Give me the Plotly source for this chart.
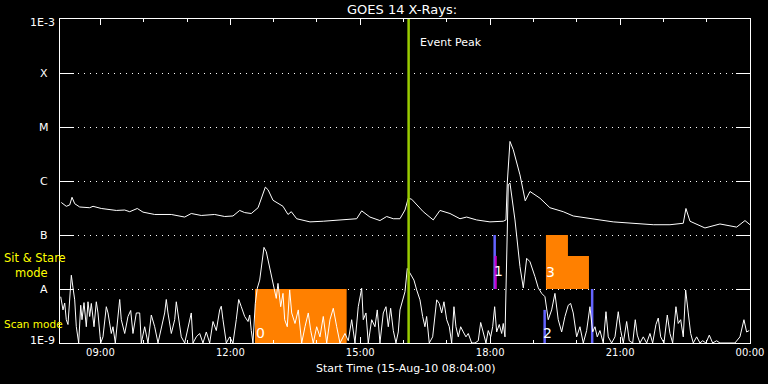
import numpy as np
import pandas as pd
import plotly.graph_objects as go

DAY = pd.Timestamp("2010-08-15")

# ---------------- data (hours after 00:00 on 15-Aug-2010, flux in W/m^2) -------------
long_hours = [8.097, 8.212, 8.291, 8.344, 8.406, 8.522, 8.752, 8.829, 9.020, 9.367,
              9.561, 9.676, 9.852, 9.983, 10.253, 10.636, 10.946, 11.098, 11.329, 11.639,
              11.870, 12.061, 12.216, 12.331, 12.484, 12.64, 12.808, 12.87, 12.985, 13.10,
              13.216, 13.331, 13.408, 13.532, 13.839, 14.146, 14.532, 14.917, 15.033, 15.224,
              15.455, 15.61, 15.763, 15.917, 16.033, 16.109, 16.187, 16.455, 16.686, 16.841,
              17.072, 17.303, 17.457, 17.688, 17.995, 18.302, 18.365, 18.395, 18.457, 18.533,
              18.688, 18.74, 18.81, 18.919, 19.15, 19.38, 19.688, 19.918, 20.228, 20.535,
              20.842, 21.228, 21.766, 22.152, 22.459, 22.521, 22.614, 22.96, 23.306, 23.692,
              23.884, 24.0]
long_flux = [4.0e-7, 3.4e-7, 3.6e-7, 5.0e-7, 3.8e-7, 3.3e-7, 3.2e-7, 3.4e-7, 3.1e-7, 2.85e-7,
             2.9e-7, 2.7e-7, 3.1e-7, 2.65e-7, 2.4e-7, 2.4e-7, 2.15e-7, 2.5e-7, 2.3e-7, 2.4e-7,
             2.2e-7, 2.25e-7, 2.85e-7, 2.6e-7, 2.5e-7, 3.2e-7, 7.7e-7, 6.9e-7, 4.4e-7, 3.8e-7,
             3.4e-7, 2.4e-7, 2.7e-7, 2.0e-7, 1.75e-7, 1.8e-7, 1.9e-7, 2.0e-7, 2.8e-7, 2.15e-7,
             1.85e-7, 2.2e-7, 2.0e-7, 2.0e-7, 2.9e-7, 4.8e-7, 4.6e-7, 2.7e-7, 1.9e-7, 2.85e-7,
             2.5e-7, 2.0e-7, 2.15e-7, 1.9e-7, 1.75e-7, 1.8e-7, 1.9e-7, 9.2e-7, 5.4e-6, 3.8e-6,
             1.3e-6, 8.0e-7, 4.3e-7, 6.4e-7, 4.8e-7, 3.2e-7, 2.7e-7, 2.25e-7, 2.1e-7, 1.9e-7,
             1.75e-7, 1.65e-7, 1.55e-7, 1.55e-7, 1.65e-7, 3.1e-7, 1.8e-7, 1.35e-7, 1.6e-7, 1.4e-7,
             1.85e-7, 1.55e-7]

short_hours = [8.083, 8.136, 8.175, 8.212, 8.251, 8.291, 8.328, 8.367, 8.406, 8.443,
               8.498, 8.545, 8.575, 8.621, 8.674, 8.713, 8.752, 8.79, 8.852, 8.905,
               8.944, 9.006, 9.059, 9.136, 9.175, 9.251, 9.29, 9.344, 9.406, 9.445,
               9.482, 9.561, 9.637, 9.699, 9.752, 9.829, 9.907, 9.944, 10.022, 10.099,
               10.175, 10.253, 10.33, 10.406, 10.484, 10.521, 10.56, 10.637, 10.715, 10.752,
               10.791, 10.867, 10.946, 11.022, 11.098, 11.138, 11.214, 11.292, 11.368, 11.445,
               11.523, 11.6, 11.676, 11.754, 11.791, 11.83, 11.907, 11.985, 12.061, 12.137,
               12.193, 12.253, 12.331, 12.408, 12.447, 12.484, 12.523, 12.576, 12.622, 12.678,
               12.731, 12.777, 12.83, 12.886, 12.946, 13.008, 13.061, 13.1, 13.163, 13.216,
               13.255, 13.315, 13.37, 13.417, 13.493, 13.569, 13.648, 13.724, 13.8, 13.856,
               13.915, 13.994, 14.07, 14.146, 14.225, 14.301, 14.377, 14.456, 14.532, 14.647,
               14.723, 14.802, 14.878, 14.954, 15.033, 15.07, 15.132, 15.185, 15.264, 15.34,
               15.393, 15.455, 15.532, 15.594, 15.647, 15.702, 15.763, 15.825, 15.878, 15.917,
               15.979, 16.033, 16.086, 16.132, 16.187, 16.24, 16.303, 16.379, 16.441, 16.494,
               16.533, 16.594, 16.672, 16.765, 16.825, 16.88, 16.933, 16.996, 17.056, 17.111,
               17.164, 17.21, 17.264, 17.319, 17.379, 17.441, 17.494, 17.573, 17.649, 17.725,
               17.781, 17.841, 17.903, 17.956, 18.012, 18.058, 18.104, 18.15, 18.21, 18.266,
               18.302, 18.342, 18.381, 18.418, 18.457, 18.573, 18.688, 18.765, 18.843, 18.919,
               19.034, 19.111, 19.189, 19.265, 19.341, 19.42, 19.496, 19.572, 19.651, 19.727,
               19.803, 19.858, 19.918, 19.997, 20.073, 20.15, 20.228, 20.304, 20.367, 20.42,
               20.473, 20.535, 20.612, 20.674, 20.727, 20.805, 20.882, 20.958, 21.014, 21.074,
               21.152, 21.212, 21.291, 21.351, 21.397, 21.459, 21.535, 21.614, 21.69, 21.752,
               21.828, 21.882, 21.937, 22.013, 22.09, 22.152, 22.214, 22.29, 22.343, 22.399,
               22.459, 22.514, 22.574, 22.63, 22.69, 22.768, 22.845, 22.907, 22.983, 23.06,
               23.138, 23.23, 23.306, 23.421, 23.537, 23.652, 23.768, 23.86, 23.922, 23.982]
# short channel flux in units of 1e-9 W/m^2
short_flux_n = [7.2, 4.1, 5.5, 2.7, 2.2, 8.4, 18, 10.5, 6.3, 2.0,
                1.0, 5.0, 2.7, 5.6, 2.0, 5.8, 3.1, 5.4, 2.0, 5.8,
                3.6, 1.0, 1.3, 4.7, 3.6, 1.5, 2.0, 1.0, 3.1, 6.4,
                2.7, 1.5, 3.1, 4.0, 1.5, 3.6, 3.6, 1.0, 2.0, 1.0,
                3.3, 2.0, 1.0, 2.0, 3.6, 6.4, 3.6, 1.5, 2.7, 5.8,
                3.6, 1.3, 1.0, 2.0, 3.6, 1.0, 1.3, 1.5, 1.0, 1.6,
                1.0, 2.5, 1.7, 4.1, 4.8, 2.7, 1.0, 1.3, 1.0, 2.7,
                6.4, 4.7, 3.1, 2.5, 3.3, 1.7, 1.0, 5.4, 10.3, 14.6,
                34, 59, 49, 30, 19.5, 10.5, 6.7, 12.7, 4.7, 8.3,
                2.7, 2.0, 9.6, 3.6, 2.3, 4.1, 1.0, 2.0, 3.6, 1.7,
                1.0, 2.0, 1.3, 3.1, 1.0, 2.7, 4.4, 2.0, 1.0, 1.5,
                1.1, 2.7, 1.0, 4.7, 10.3, 2.7, 3.6, 1.0, 2.7, 2.0,
                4.1, 1.0, 3.6, 4.7, 2.0, 4.4, 1.7, 1.0, 1.6, 4.1,
                6.3, 8.9, 24, 21, 18, 14.6, 9.6, 6.3, 3.1, 2.0,
                3.1, 1.0, 1.3, 6.3, 5.4, 3.6, 5.8, 2.7, 2.0, 1.0,
                4.7, 2.0, 1.3, 2.0, 1.6, 1.3, 1.5, 1.0, 1.0, 1.1,
                2.4, 1.5, 1.0, 1.7, 1.3, 2.0, 4.7, 1.6, 2.2, 1.5,
                2.3, 1.3, 81, 850, 920, 190, 26, 10.5, 37, 32,
                17, 10.5, 8.3, 7.2, 2.7, 4.1, 8.3, 2.7, 1.6, 3.1,
                5.0, 5.4, 3.6, 1.3, 2.0, 1.0, 1.7, 4.7, 1.6, 2.0,
                1.3, 1.7, 1.0, 3.8, 1.3, 1.0, 1.3, 3.8, 1.7, 1.0,
                2.5, 1.1, 1.0, 2.7, 1.4, 1.0, 1.3, 1.0, 1.5, 1.0,
                2.2, 2.9, 1.3, 1.0, 3.3, 1.5, 1.0, 4.7, 2.3, 2.7,
                1.3, 9.6, 3.6, 1.5, 1.0, 1.3, 1.0, 1.1, 1.0, 1.4,
                1.0, 1.1, 1.0, 1.0, 1.0, 1.0, 1.3, 2.7, 1.6, 1.7]

# observing-mode boxes (hours) and their flux extents
box0_hours = [12.569, 14.686]
box0_flux = [1e-9, 1e-8]
box3_hours = [19.288, 19.796, 20.281]
box3_flux = [1e-8, 1e-7, 4.1e-8]

# event markers (hours, low flux, high flux)
blue_hours = [18.104, 19.258, 20.355]
blue_lo = [1e-8, 1e-9, 1e-9]
blue_hi = [1e-7, 4.1e-9, 1e-8]
magenta_hours = [18.127]
magenta_lo = [1e-8]
magenta_hi = [4.1e-8]

event_peak_hour = 16.117

tick_hours = [9, 12, 15, 18, 21, 24]
tick_text = ["09:00", "12:00", "15:00", "18:00", "21:00", "00:00"]
ylabel_vals = [1e-9, 1e-8, 1e-7, 1e-6, 1e-5, 1e-4, 1e-3]
ylabel_text = ["1E-9", "A", "B", "C", "M", "X", "1E-3"]


def T(h):
    return DAY + pd.to_timedelta(np.asarray(h, dtype=float), unit="h")


ORANGE = "#FF8000"
BLUE = "#6464FF"
MAGENTA = "#C800C8"
GREEN = "#99CC00"

fig = go.Figure()

# boxes
t0, t1 = T(box0_hours)
fig.add_trace(go.Scatter(x=[t0, t1, t1, t0, t0],
                         y=[box0_flux[0], box0_flux[0], box0_flux[1], box0_flux[1], box0_flux[0]],
                         mode="lines", fill="toself", fillcolor=ORANGE,
                         line=dict(width=0, color=ORANGE), hoverinfo="skip"))
a, b, c = T(box3_hours)
lo3, hi3a, hi3b = box3_flux
fig.add_trace(go.Scatter(x=[a, c, c, b, b, a, a],
                         y=[lo3, lo3, hi3b, hi3b, hi3a, hi3a, lo3],
                         mode="lines", fill="toself", fillcolor=ORANGE,
                         line=dict(width=0, color=ORANGE), hoverinfo="skip"))

# markers
for h, lo, hi in zip(blue_hours, blue_lo, blue_hi):
    tt = T([h])[0]
    fig.add_trace(go.Scatter(x=[tt, tt], y=[lo, hi], mode="lines",
                             line=dict(color=BLUE, width=2.5), hoverinfo="skip"))
for h, lo, hi in zip(magenta_hours, magenta_lo, magenta_hi):
    tt = T([h])[0]
    fig.add_trace(go.Scatter(x=[tt, tt], y=[lo, hi], mode="lines",
                             line=dict(color=MAGENTA, width=2.2), hoverinfo="skip"))

# data
fig.add_trace(go.Scatter(x=T(long_hours), y=long_flux, mode="lines",
                         line=dict(color="white", width=1)))
fig.add_trace(go.Scatter(x=T(short_hours), y=np.array(short_flux_n) * 1e-9, mode="lines",
                         line=dict(color="white", width=1)))

# event peak line
tp = T([event_peak_hour])[0]
fig.add_trace(go.Scatter(x=[tp, tp], y=[1e-9, 1e-3], mode="lines",
                         line=dict(color=GREEN, width=2.5), hoverinfo="skip"))

FONT = "DejaVu Sans"
ann = []
ann.append(dict(text="GOES 14 X-Rays:", xref="paper", yref="paper", x=0.4957, y=1.0,
                yshift=9.5, xanchor="center", yanchor="middle", showarrow=False,
                font=dict(family=FONT, size=13, color="white")))
ann.append(dict(text="Start Time (15-Aug-10 08:04:00)", xref="paper", yref="paper",
                x=0.5, y=0, yshift=-25, xanchor="center", yanchor="middle", showarrow=False,
                font=dict(family=FONT, size=11, color="white")))
ann.append(dict(text="Event Peak", xref="x", yref="paper", x=tp, y=1.0, xshift=9,
                yshift=-23.5, xanchor="left", yanchor="middle", showarrow=False,
                font=dict(family=FONT, size=11, color="white")))
for v, s in zip(ylabel_vals, ylabel_text):
    if s.startswith("1E"):
        ysh = -3 if v > 1e-6 else 3
        ann.append(dict(text=s, xref="paper", yref="y", x=0, y=np.log10(v), xshift=-3,
                        yshift=ysh, xanchor="right", yanchor="middle", showarrow=False,
                        font=dict(family=FONT, size=11, color="white")))
    else:
        ann.append(dict(text=s, xref="paper", yref="y", x=0, y=np.log10(v), xshift=-16,
                        xanchor="center", yanchor="middle", showarrow=False,
                        font=dict(family=FONT, size=11, color="white")))
# yellow mode labels
ann.append(dict(text="Sit &amp; Stare<br>&nbsp;&nbsp;&nbsp;mode", xref="paper", yref="paper",
                x=0, y=0, xshift=2 - 60, yshift=343 - 265, xanchor="left", yanchor="middle",
                align="left", showarrow=False,
                font=dict(family=FONT, size=11.5, color="#FFFF00")))
ann.append(dict(text="Scan mode", xref="paper", yref="paper", x=0, y=0, xshift=2 - 60,
                yshift=343 - 324, xanchor="left", yanchor="middle", showarrow=False,
                font=dict(family=FONT, size=10.5, color="#FFFF00")))
# box / marker numbers
for txt, h, lv in [("0", 12.696, -8.814), ("1", 18.2, -7.67), ("2", 19.328, -8.82), ("3", 19.397, -7.677)]:
    ann.append(dict(text=txt, xref="x", yref="y", x=T([h])[0], y=lv,
                    xanchor="center", yanchor="middle", showarrow=False,
                    font=dict(family=FONT, size=14, color="white")))

fig.update_layout(
    width=768, height=384,
    margin=dict(l=60, r=18, t=19, b=41, pad=0),
    paper_bgcolor="black", plot_bgcolor="black",
    showlegend=False, hovermode=False,
    annotations=ann,
    xaxis=dict(type="date", range=[DAY + pd.Timedelta(hours=8, minutes=4), DAY + pd.Timedelta(hours=24)],
               tickmode="array", tickvals=list(T(tick_hours)), ticktext=tick_text,
               ticks="inside", ticklen=6, tickwidth=1, tickcolor="white",
               showline=True, linecolor="white", linewidth=1, mirror="ticks",
               showgrid=False, zeroline=False, automargin=False,
               tickfont=dict(family=FONT, size=10, color="white"),
               minor=dict(ticks="inside", ticklen=3, tickcolor="white", dtick=3600000,
                          tick0="2010-08-15 00:00", showgrid=False)),
    yaxis=dict(type="log", range=[-9, -3], tickmode="array", tickvals=ylabel_vals,
               showticklabels=False, ticks="inside", ticklen=14, tickwidth=1, tickcolor="white",
               showline=True, linecolor="white", linewidth=1, mirror="ticks",
               showgrid=True, gridcolor="white", gridwidth=1, griddash="1px,5px",
               zeroline=False, automargin=False),
)

fig.write_html("out.html", config={"displayModeBar": False},
               post_script="document.body.style.margin='0px';document.body.style.background='black';")
